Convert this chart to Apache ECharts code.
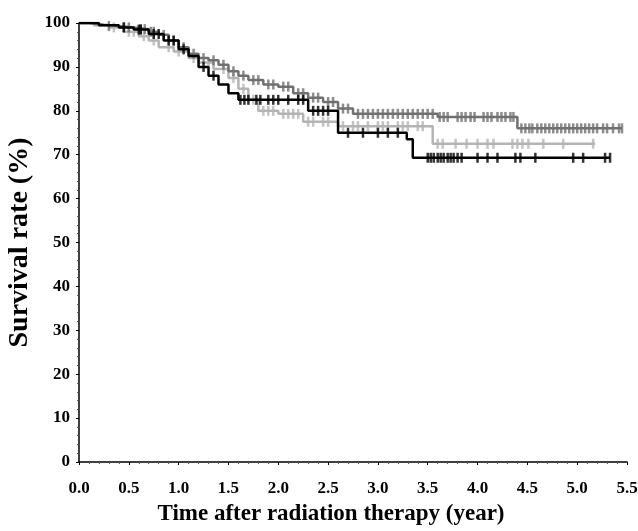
<!DOCTYPE html>
<html>
<head>
<meta charset="utf-8">
<script src="https://cdn.jsdelivr.net/npm/echarts@6/dist/echarts.min.js"></script>
<style>
  html, body { margin: 0; padding: 0; background: #fff; }
  #main { width: 638px; height: 531px; }
</style>
</head>
<body>
<div id="main"></div>
<script>
// x tick labels
var xTicks = ['0.0', '0.5', '1.0', '1.5', '2.0', '2.5', '3.0', '3.5', '4.0', '4.5', '5.0', '5.5'];

// dark gray group: step points [time, survival]
var darkSteps = [
  [0, 100], [0.1, 99.6], [0.25, 99.3], [0.4, 99], [0.55, 98.6], [0.7, 98], [0.8, 97.3],
  [0.9, 96], [1.0, 94.5], [1.1, 93], [1.2, 92], [1.3, 91.5], [1.4, 90.5], [1.5, 89],
  [1.6, 88], [1.7, 87], [1.85, 86], [2.0, 85.5], [2.15, 84], [2.3, 83], [2.45, 82],
  [2.6, 80.5], [2.75, 79.3], [3.6, 78.6], [4.4, 76], [5.45, 76]
];
var darkCensor = [
  0.3, 0.45, 0.5, 0.62, 0.66, 0.72, 0.75, 0.85, 0.95, 1.05, 1.15, 1.25, 1.35, 1.45, 1.55,
  1.65, 1.75, 1.8, 1.9, 1.95, 2.05, 2.1, 2.2, 2.25, 2.35, 2.4, 2.5, 2.55, 2.65, 2.7,
  2.8, 2.85, 2.9, 2.95, 3.0, 3.05, 3.1, 3.15, 3.2, 3.25, 3.3, 3.35, 3.4, 3.45, 3.5,
  3.55, 3.62, 3.66, 3.7, 3.8, 3.84, 3.88, 3.93, 3.97, 4.06, 4.1, 4.14, 4.2, 4.24, 4.28,
  4.33, 4.36, 4.44, 4.48, 4.52, 4.55, 4.6, 4.64, 4.68, 4.72, 4.76, 4.8, 4.84, 4.88,
  4.92, 4.96, 5.0, 5.04, 5.08, 5.12, 5.16, 5.2, 5.26, 5.3, 5.36, 5.42, 5.45
];

// light gray group
var lightSteps = [
  [0, 100], [0.15, 99.5], [0.3, 99], [0.45, 98], [0.6, 97], [0.7, 96], [0.8, 94.5],
  [0.95, 93.5], [1.1, 92], [1.2, 91], [1.35, 89.5], [1.5, 87.5], [1.6, 85], [1.7, 82.5],
  [1.8, 80], [2.0, 79.3], [2.25, 77.5], [2.6, 76.5], [3.55, 72.5], [5.18, 72.5]
];
var lightCensor = [
  0.35, 0.5, 0.55, 0.65, 0.75, 0.9, 1.0, 1.15, 1.3, 1.45, 1.55, 1.65, 1.75, 1.85, 1.9,
  1.95, 2.05, 2.1, 2.15, 2.2, 2.3, 2.35, 2.45, 2.5, 2.65, 2.75, 2.8, 2.9, 3.0, 3.05,
  3.1, 3.2, 3.25, 3.3, 3.4, 3.45, 3.6, 3.65, 3.78, 3.89, 4.0, 4.1, 4.16, 4.35, 4.4,
  4.45, 4.51, 4.66, 4.86, 5.16
];

// black group
var blackSteps = [
  [0, 100], [0.2, 99.5], [0.4, 99], [0.55, 98.5], [0.7, 97.5], [0.85, 96], [1.0, 94],
  [1.1, 92.5], [1.2, 90], [1.3, 88], [1.4, 86], [1.5, 84], [1.6, 82.5], [2.3, 80],
  [2.6, 75], [3.29, 73.5], [3.35, 69.3], [5.33, 69.3]
];
var blackCensor = [
  0.45, 0.6, 0.62, 0.75, 0.8, 0.9, 0.95, 1.05, 1.25, 1.35, 1.62, 1.66, 1.7, 1.78, 1.82,
  1.9, 1.95, 2.0, 2.1, 2.2, 2.25, 2.35, 2.4, 2.45, 2.5, 2.7, 2.85, 3.0, 3.1, 3.2,
  3.5, 3.53, 3.56, 3.6, 3.63, 3.66, 3.7, 3.73, 3.76, 3.8, 3.84, 4.0, 4.1, 4.2, 4.38,
  4.43, 4.58, 4.96, 5.06, 5.28, 5.33
];

// survival value at a censor time, read from the step list
function survAt(steps, t) {
  var v = steps[0][1];
  for (var i = 0; i < steps.length; i++) {
    if (steps[i][0] <= t) v = steps[i][1];
  }
  return v;
}
function censorPoints(steps, times) {
  return times.map(function (t) { return [t, survAt(steps, t)]; });
}

var serif = '"Liberation Serif", "DejaVu Serif", serif';

var chart = echarts.init(document.getElementById('main'), null, { renderer: 'canvas' });

function km(name, steps, color, z) {
  return {
    name: name,
    type: 'line',
    step: 'end',
    data: steps,
    symbol: 'none',
    z: z,
    lineStyle: { color: color, width: 2.5 },
    animation: false
  };
}
function ticks(name, steps, times, color, z) {
  return {
    name: name,
    type: 'scatter',
    data: censorPoints(steps, times),
    symbol: 'rect',
    symbolSize: [2.5, 10],
    z: z,
    itemStyle: { color: color },
    animation: false
  };
}

var option = {
  backgroundColor: '#ffffff',
  grid: { left: 79, right: 11, top: 23, bottom: 69, outerBoundsMode: 'none' },
  xAxis: {
    type: 'value',
    min: 0,
    max: 5.5,
    interval: 0.5,
    name: 'Time after radiation therapy (year)',
    nameLocation: 'middle',
    nameGap: 41,
    nameTextStyle: {
      fontFamily: serif, fontWeight: 'bold', fontSize: 23, color: '#000',
      padding: [0, 44, 0, 0]
    },
    axisLine: { show: true, lineStyle: { color: '#000', width: 1.5 } },
    axisTick: { show: true, length: 3, lineStyle: { color: '#000' } },
    minorTick: { show: true, splitNumber: 5, length: 2, lineStyle: { color: '#555' } },
    splitLine: { show: false },
    axisLabel: {
      margin: 18,
      fontFamily: serif, fontWeight: 'bold', fontSize: 17, color: '#000',
      formatter: function (v) { return xTicks[Math.round(v / 0.5)]; }
    }
  },
  yAxis: {
    type: 'value',
    min: 0,
    max: 100,
    interval: 10,
    name: 'Survival rate (%)',
    nameLocation: 'middle',
    nameGap: 42,
    nameTextStyle: { fontFamily: serif, fontWeight: 'bold', fontSize: 28, color: '#000' },
    axisLine: { show: true, lineStyle: { color: '#000', width: 1.5 } },
    axisTick: { show: true, length: 3, lineStyle: { color: '#000' } },
    minorTick: { show: true, splitNumber: 5, length: 2, lineStyle: { color: '#555' } },
    splitLine: { show: false },
    axisLabel: { margin: 9, fontFamily: serif, fontWeight: 'bold', fontSize: 17, color: '#000' }
  },
  series: [
    km('light', lightSteps, '#b4b4b4', 2),
    km('dark', darkSteps, '#707070', 3),
    km('black', blackSteps, '#000000', 4),
    ticks('light', lightSteps, lightCensor, '#b4b4b4', 2),
    ticks('dark', darkSteps, darkCensor, '#707070', 3),
    ticks('black', blackSteps, blackCensor, '#000000', 4)
  ]
};

chart.setOption(option);
</script>
</body>
</html>
